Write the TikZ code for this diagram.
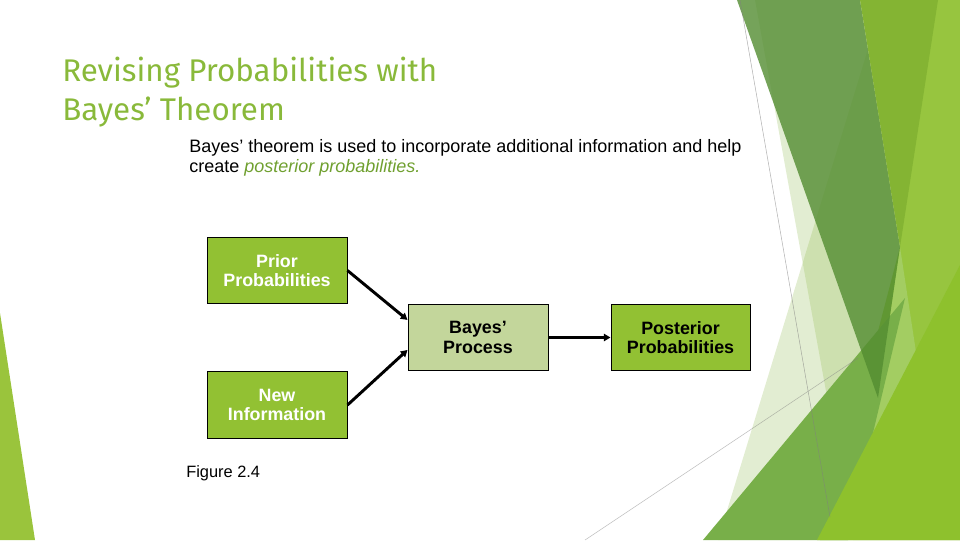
\documentclass[tikz,border=0pt]{standalone}
\usepackage{fontspec}
\setmainfont{Liberation Sans}
\newfontfamily\titlefont{Fira Sans}
\usepackage{xcolor}
\usetikzlibrary{arrows.meta}
\definecolor{boxgreen}{RGB}{146,193,51}
\definecolor{bayesgreen}{RGB}{195,214,155}
\definecolor{titlegreen}{RGB}{137,185,58}
\definecolor{postgreen}{RGB}{112,160,48}
\definecolor{palegreen}{RGB}{141,184,74}
\definecolor{olivegreen}{RGB}{83,140,49}
\definecolor{midgreen}{RGB}{132,180,51}
\definecolor{rightgreen}{RGB}{151,197,63}
\definecolor{bandgreen}{RGB}{163,205,98}
\definecolor{lowgreen}{RGB}{120,175,73}
\definecolor{brightgreen}{RGB}{142,193,45}
\definecolor{sliver}{RGB}{154,196,60}

\begin{document}
\begin{tikzpicture}[x=0.75pt, y=-0.75pt, >={Triangle[length=5pt,width=5.5pt]},
  titletext/.style={anchor=base west, inner sep=0pt, text=titlegreen,
    font=\titlefont\fontsize{23.5}{28}\selectfont},
  bodytext/.style={anchor=base west, inner sep=0pt, font=\fontsize{13.5}{15}\selectfont},
  probbox/.style={draw=black, line width=0.75pt, fill=boxgreen,
    minimum width=105pt, minimum height=50pt, inner sep=0pt, align=center,
    font=\fontsize{13.4}{14.5}\selectfont\bfseries},
  flow/.style={->, line width=2.2pt}]
  \useasboundingbox (0,0) rectangle (960,540);

  % Facet shapes on the right
  \fill[palegreen, fill opacity=0.25] (755,0) -- (960,0) -- (960,540) -- (853,540) -- cycle;
  \fill[palegreen, fill opacity=0.25] (718,540) -- (883,0) -- (960,0) -- (960,540) -- cycle;
  \fill[rightgreen] (900,0) -- (960,0) -- (960,540) -- (820,540) -- (860,400) -- (900,247) -- cycle;
  \fill[bandgreen] (900,247) -- (916,352) -- (872,437) -- (878,398) -- cycle;
  \fill[lowgreen] (703,540) -- (905,298) -- (872,437) -- (848,540) -- cycle;
  \fill[olivegreen, fill opacity=0.8] (737,0) -- (860,0) -- (900,247) -- (878,398) -- cycle;
  \fill[midgreen] (860,0) -- (938,0) -- (900,247) -- cycle;
  \fill[brightgreen] (817,540) -- (960,265) -- (960,540) -- cycle;
  \draw[gray, draw opacity=0.6, line width=0.4pt] (740,0) -- (830,517);
  \draw[gray, draw opacity=0.5, line width=0.4pt] (585,540) -- (858,358);

  % Left sliver
  \fill[sliver] (0,313) -- (35,540) -- (0,540) -- cycle;

  % Title and text
  \node[titletext] (title1) at (62,81) {Revising Probabilities with};
  \node[titletext] (title2) at (62,120) {Bayes’ Theorem};
  \node[bodytext] (intro1) at (189,152)
    {Bayes’ theorem is used to incorporate additional information and help};
  \node[bodytext] (intro2) at (189,172)
    {create \textcolor{postgreen}{\itshape posterior probabilities.}};

  % Boxes
  \node[probbox, text=white] (prior) at (277,270.5) {Prior\\Probabilities};
  \node[probbox, text=white] (newinfo) at (277,405) {New\\Information};
  \node[probbox, fill=bayesgreen] (bayes) at (478,337.5) {Bayes’\\Process};
  \node[probbox, minimum width=104.25pt] (posterior) at (680.5,337.5) {Posterior\\Probabilities};

  % Arrows
  \draw[flow] (prior.east) -- (bayes.166);
  \draw[flow] (newinfo.east) -- (bayes.190);
  \draw[flow] (bayes.east) -- (posterior.west);

  \node[bodytext, font=\fontsize{12.3}{15}\selectfont] (figlabel) at (186,477) {Figure 2.4};

\end{tikzpicture}
\end{document}
